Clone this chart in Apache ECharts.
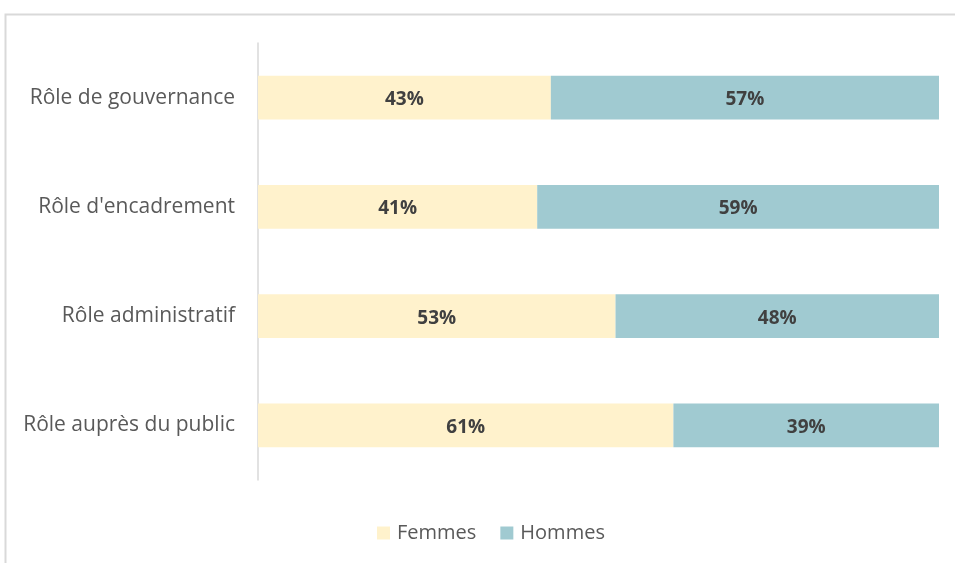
<!DOCTYPE html>
<html><head><meta charset="utf-8">
<script src="https://cdn.jsdelivr.net/npm/echarts@6/dist/echarts.min.js"></script>
<style>html,body{margin:0;padding:0;background:#fff}#c{width:955px;height:563px}</style>
</head><body><div id="c"></div>
<script>
const categories = ["Rôle de gouvernance", "Rôle d'encadrement", "Rôle administratif", "Rôle auprès du public"];
const femmes = [43, 41, 52.5, 61];
const hommes = [57, 59, 47.5, 39];
const seriesNames = ["Femmes", "Hommes"];
const colors = ["#FFF2CC", "#A0CAD1"];

const chart = echarts.init(document.getElementById('c'), null, {renderer: 'canvas'});
const lbl = {
  show: true, position: 'inside', color: '#404040', fontWeight: 'bold',
  fontFamily: 'Open Sans', fontSize: 19, offset: [0, 2],
  formatter: p => Math.round(p.value) + '%'
};
chart.setOption({
  animation: false,
  graphic: [{type: 'rect', left: 3, top: 12, shape: {width: 1000, height: 600},
    style: {fill: 'none', stroke: '#D9D9D9', lineWidth: 2}, silent: true}],
  grid: {left: 258, right: 16, top: 43, height: 437},
  legend: {
    top: 518, left: 372, itemWidth: 13, itemHeight: 13, itemGap: 24,
    icon: 'rect',
    textStyle: {color: '#595959', fontFamily: 'Open Sans', fontSize: 20, padding: [0, 0, 0, 2]},
    data: seriesNames
  },
  xAxis: {type: 'value', min: 0, max: 100, show: false},
  yAxis: {
    type: 'category', data: categories, inverse: true,
    axisLine: {show: true, lineStyle: {color: '#D9D9D9', width: 1.5}},
    axisTick: {show: false},
    axisLabel: {color: '#595959', fontFamily: 'Open Sans', fontSize: 21, margin: 23}
  },
  series: [
    {name: seriesNames[0], type: 'bar', stack: 't', data: femmes, barCategoryGap: '60%',
     itemStyle: {color: colors[0]}, label: lbl},
    {name: seriesNames[1], type: 'bar', stack: 't', data: hommes,
     itemStyle: {color: colors[1]}, label: lbl}
  ]
});
</script></body></html>
